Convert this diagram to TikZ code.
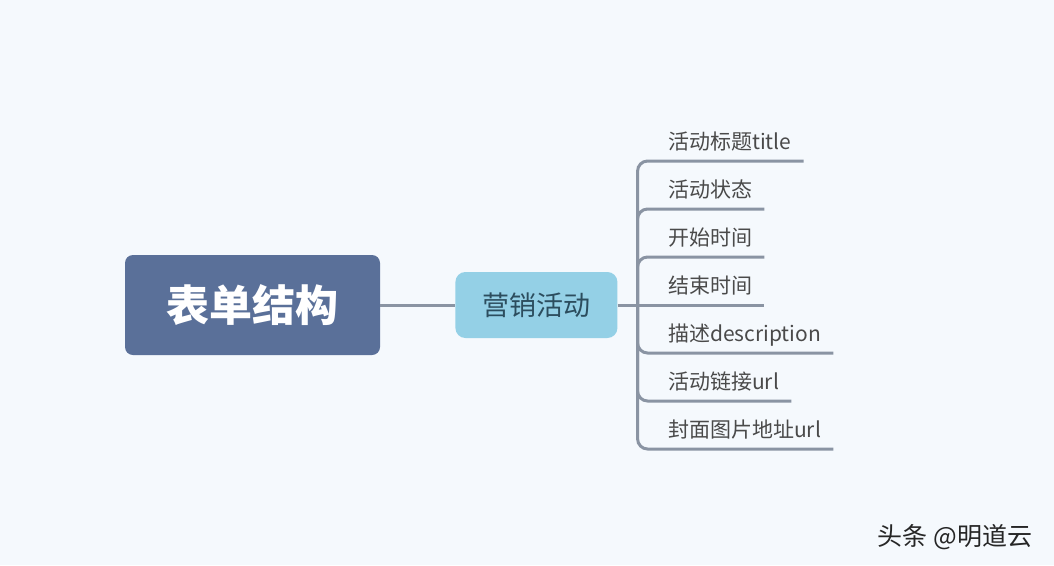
\documentclass[tikz,border=0pt]{standalone}
\usepackage{fontspec}
\setmainfont{Noto Sans CJK SC}
\usetikzlibrary{positioning}
\definecolor{bgcol}{HTML}{F5F9FD}
\definecolor{rootcol}{HTML}{5A7099}
\definecolor{topiccol}{HTML}{94D0E6}
\definecolor{topictext}{HTML}{2C4D5E}
\definecolor{linecol}{HTML}{8A94A3}
\definecolor{leaftext}{HTML}{4A4A4A}
\begin{document}
\begin{tikzpicture}[x=1pt, y=-1pt, node distance=75pt,
    root node/.style={fill=rootcol, rounded corners=8pt, text=white,
      minimum width=255pt, minimum height=100pt,
      font=\fontsize{43}{50}\selectfont\bfseries},
    topic node/.style={fill=topiccol, rounded corners=10pt, text=topictext,
      minimum width=162pt, minimum height=66pt,
      font=\fontsize{27}{32}\selectfont},
    leaf node/.style={anchor=south west, text=leaftext, inner xsep=12pt,
      inner ysep=0pt, text height=16pt, text depth=11pt,
      font=\fontsize{21}{26}\selectfont},
    branch/.style={draw=linecol, line width=3pt, rounded corners=10pt}]

  \fill[bgcol] (0,0) rectangle (1054,565);
  \useasboundingbox (0,0) rectangle (1054,565);

  \node[root node] (root) at (252.5,305) {表单结构};
  \node[topic node] (topic) [right=of root] {营销活动};
  \coordinate[right=20pt of topic] (hub);

  \node[leaf node] (l1) at (656,161) {活动标题title};
  \node[leaf node] (l2) at (656,209) {活动状态};
  \node[leaf node] (l3) at (656,257) {开始时间};
  \node[leaf node] (l4) at (656,305) {结束时间};
  \node[leaf node] (l5) at (656,353) {描述description};
  \node[leaf node] (l6) at (656,401) {活动链接url};
  \node[leaf node] (l7) at (656,449) {封面图片地址url};

  \draw[branch] (root) -- (topic);
  \draw[branch] (topic) -- (hub);
  \draw[branch] (hub) |- (l1.south east);
  \draw[branch] (hub) |- (l2.south east);
  \draw[branch] (hub) |- (l3.south east);
  \draw[branch] (hub) -- (l4.south east);
  \draw[branch] (hub) |- (l5.south east);
  \draw[branch] (hub) |- (l6.south east);
  \draw[branch] (hub) |- (l7.south east);

  \node[text=black!85, font=\fontsize{25}{30}\selectfont] (mark) at (955,537) {头条 @明道云};
\end{tikzpicture}
\end{document}
